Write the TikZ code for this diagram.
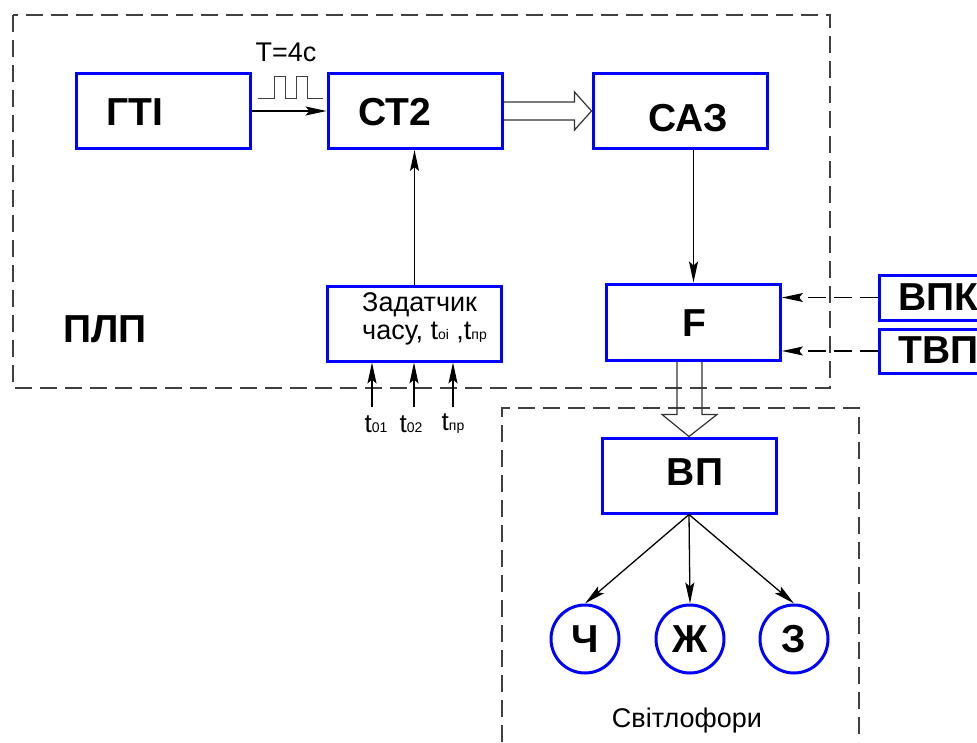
\documentclass[tikz,border=0pt]{standalone}
\usepackage{fontspec}
\setmainfont{Liberation Sans}
\usetikzlibrary{arrows.meta,calc}
\newcommand{\sm}[1]{{\fontsize{14}{14}\selectfont #1}}

\begin{document}
\begin{tikzpicture}[x=1pt,y=-1pt,
    box/.style={draw=blue,line width=3pt,minimum width=174pt,minimum height=75pt,inner sep=0pt},
    lab/.style={font=\fontsize{39}{40}\selectfont\bfseries,inner sep=0pt},
    txt/.style={font=\fontsize{27}{28}\selectfont,inner sep=0pt},
    lamp/.style={circle,draw=blue,line width=3pt,minimum size=68pt,inner sep=0pt,font=\fontsize{39}{40}\selectfont\bfseries},
    arr/.style={-{Stealth[length=21pt,width=9pt,inset=4pt]},line width=1.3pt},
    dasharr/.style={arr,dash pattern=on 18pt off 8pt},
    frame/.style={dash pattern=on 17pt off 8pt,line width=1.5pt,black!75},
    hollow/.style={line width=1.2pt,black!80}]
\useasboundingbox (0,0) rectangle (977,742);
\clip (0,0) rectangle (977,742);
                        % Frames
                        \draw[frame] (13,15) rectangle (830,388);
                        \draw[frame] (502,742) -- (502,408) -- (859,408) -- (859,742);
                        \node[lab] (PLP) at (105,329) {ПЛП};
                        \node[txt] (SVT) at (687,721) {Світлофори};
                        % Blocks
                        \node[box] (GTI) at (163,111) {};
                        \node[lab] (GTIt) at (135,112) {ГТІ};
                        \node[box] (CT2) at (415,111) {};
                        \node[lab] (CT2t) at (395,112) {СТ2};
                        \node[box] (CA3) at (680,111) {};
                        \node[lab] (CA3t) at (688,118) {САЗ};
                        \node[box] (Zad) at (414.5,323.5) {};
                        \node[txt,anchor=west,align=left] (Zadt) at (362,319) {Задатчик\\часу, t\sm{oi} ,t\sm{пр}};
                        \node[box,minimum height=76pt] (F) at (693.5,322) {};
                        \node[lab] (Ft) at (694,323) {F};
                        \node[box,minimum height=45pt] (VPK) at (966,297.5) {};
                        \node[lab,anchor=west] (VPKt) at (898,297) {ВПК};
                        \node[box,minimum height=44pt] (TVP) at (966,351) {};
                        \node[lab,anchor=west] (TVPt) at (898,350) {ТВП};
                        \node[box] (VP) at (689,475.5) {};
                        \node[lab] (VPt) at (695,472) {ВП};
                        % Lamps
                        \node[lamp] (Ch) at (585,639) {Ч};
                        \node[lamp] (Zh) at (690,639) {Ж};
                        \node[lamp] (Ze) at (794,639) {З};
                        % Pulses
                        \node[txt] (T4) at (286,52) {Т=4с};
                        \draw[line width=1pt,black!75] (258,98) -- (274,98) -- (274,76) -- (285,76) -- (285,98)
                            -- (296,98) -- (296,76) -- (307,76) -- (307,98) -- (323,98);
                        % links
                        \draw[arr] (GTI.east) -- (CT2.west);
                        \draw[arr] (Zad.north) -- (Zad.north |- CT2.south);
                        \draw[arr] (CA3.south -| F.north) -- (F.north);
                        \draw[dasharr] (VPK.west) -- (VPK.west -| F.east);
                        \draw[dasharr] (TVP.west) -- (TVP.west -| F.east);
                        \draw[arr] (VP.south) -- (Ch.north);
                        \draw[arr] (VP.south) -- (Zh.north);
                        \draw[arr] (VP.south) -- (Ze.north);
                        % hollow arrows
                        \draw[hollow] ($(CT2.east)+(0,-9)$) -- ($(CA3.west)+(-17,-9)$) -- ($(CA3.west)+(-17,-19)$)
                            -- (CA3.west) -- ($(CA3.west)+(-17,19)$) -- ($(CA3.west)+(-17,9)$) -- ($(CT2.east)+(0,9)$);
                        \coordinate (h1) at ($(VP.north)+(-12,0)$);
                        \coordinate (h2) at ($(VP.north)+(13,0)$);
                        \draw[hollow] (h1 |- F.south) -- ($(h1)+(0,-22)$) -- ($(VP.north)+(-27,-22)$)
                            -- (VP.north) -- ($(VP.north)+(28,-22)$) -- ($(h2)+(0,-22)$) -- (h2 |- F.south);
                        % inputs
                        \coordinate (t1s) at (372,407);
                        \coordinate (t2s) at (414,407);
                        \coordinate (t3s) at (453,407);
                        \draw[arr] (t1s) -- (t1s |- Zad.south);
                        \draw[arr] (t2s) -- (t2s |- Zad.south);
                        \draw[arr] (t3s) -- (t3s |- Zad.south);
                        \node[txt,font=\fontsize{26}{26}\selectfont] (t1) at (376,424) {t\sm{01}};
                        \node[txt,font=\fontsize{26}{26}\selectfont] (t2) at (411,424) {t\sm{02}};
                        \node[txt,font=\fontsize{26}{26}\selectfont] (t3) at (453,424) {t\sm{пр}};
\end{tikzpicture}
\end{document}
